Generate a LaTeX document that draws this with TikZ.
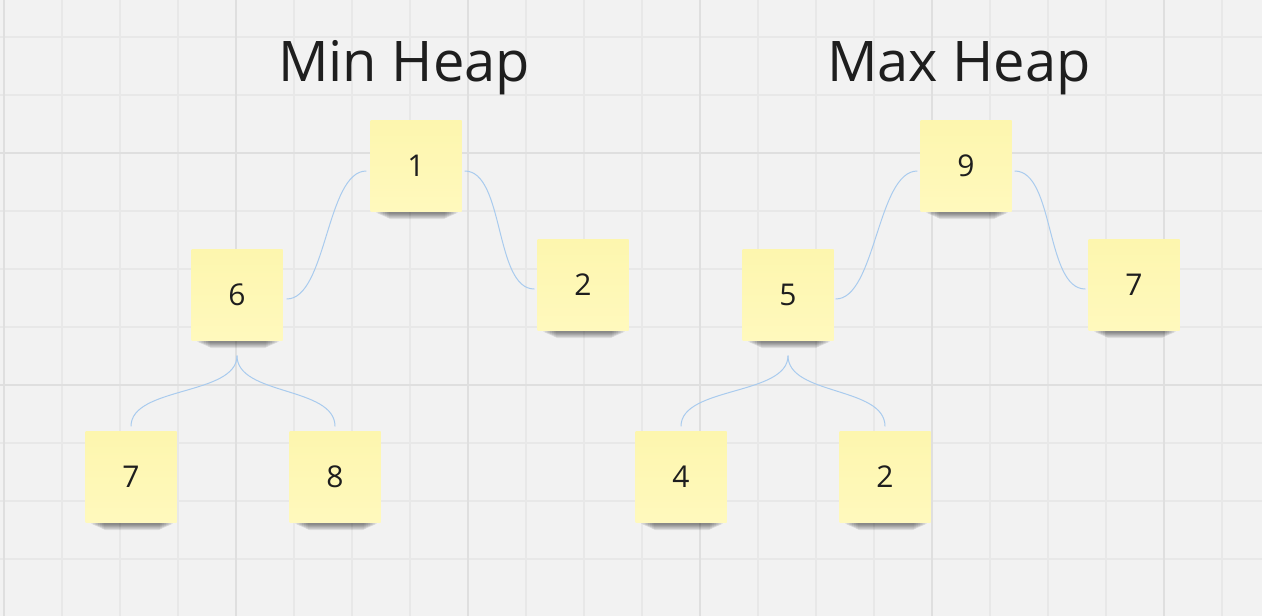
\documentclass[tikz,border=0pt]{standalone}
\usepackage{fontspec}
\setmainfont{Open Sans}
\definecolor{bgc}{HTML}{F2F2F2}
\definecolor{gridminor}{HTML}{E8E8E8}
\definecolor{gridmajor}{HTML}{DFDFDF}
\definecolor{notetop}{HTML}{FDF6AE}
\definecolor{notebot}{HTML}{FFF9BD}
\definecolor{linkc}{HTML}{A9CBEE}
\definecolor{textc}{HTML}{1E1E1E}
\tikzset{
  stickynote/.style={rectangle, minimum width=91pt, minimum height=91pt, inner sep=0pt,
    top color=notetop, bottom color=notebot, draw=none,
    font=\fontsize{30}{30}\selectfont, text=textc, text height=21.5pt, text depth=0pt},
  titletext/.style={font=\fontsize{56}{56}\selectfont, text=textc, anchor=base, inner sep=0pt},
  link/.style={draw=linkc, line width=1pt},
  shadowpiece/.style={fill=black, opacity=0.065}
}
\newcommand{\placenote}[4]{%
  \foreach \i in {0,...,7}{%
    \fill[shadowpiece, rounded corners=2pt] (#2-40+\i*1.8,#3+43) rectangle (#2+42-\i*1.8,#3+47.5+\i*0.8);
  }%
  \node[stickynote] (#1) at (#2,#3) {#4};%
}
\begin{document}
\begin{tikzpicture}[x=1pt,y=-1pt]
\fill[bgc] (0,0) rectangle (1262,616);
\useasboundingbox (0,0) rectangle (1262,616);
% grid
\foreach \k in {0,...,21}{
  \draw[gridminor, line width=1.3pt] ({4+58*\k},0) -- ({4+58*\k},616);
}
\foreach \k in {0,...,9}{
  \draw[gridminor, line width=1.3pt] (0,{37+58*\k}) -- (1262,{37+58*\k});
}
\foreach \xx in {4,236,468,700,932,1164}{
  \draw[gridmajor, line width=1.8pt] (\xx,0) -- (\xx,616);
}
\foreach \yy in {153,385}{
  \draw[gridmajor, line width=1.8pt] (0,\yy) -- (1262,\yy);
}
% titles
\node[titletext] (tmin) at (404,81) {Min Heap};
\node[titletext] (tmax) at (959,81) {Max Heap};
% min heap notes
\placenote{a1}{416}{166}{1}
\placenote{a6}{237}{295}{6}
\placenote{a2}{583}{285}{2}
\placenote{a7}{131}{477}{7}
\placenote{a8}{335}{477}{8}
% max heap notes
\placenote{b9}{966}{166}{9}
\placenote{b5}{788}{295}{5}
\placenote{b7}{1134}{285}{7}
\placenote{b4}{681}{477}{4}
\placenote{b2}{885}{477}{2}
% min heap links
\draw[link] ([xshift=-4pt,yshift=-5pt]a1.west) .. controls +(-40,0) and +(40,0) .. ([xshift=4pt,yshift=-4pt]a6.east);
\draw[link] ([xshift=3pt,yshift=-5pt]a1.east) .. controls +(40,0) and +(-40,0) .. ([xshift=-3pt,yshift=-4pt]a2.west);
\draw[link] ([yshift=-15pt]a6.south) .. controls +(0,40) and +(0,-40) .. ([yshift=5pt]a7.north);
\draw[link] ([yshift=-15pt]a6.south) .. controls +(0,40) and +(0,-40) .. ([yshift=5pt]a8.north);
% max heap links
\draw[link] ([xshift=-3pt,yshift=-5pt]b9.west) .. controls +(-40,0) and +(40,0) .. ([xshift=2pt,yshift=-4pt]b5.east);
\draw[link] ([xshift=3pt,yshift=-5pt]b9.east) .. controls +(40,0) and +(-40,0) .. ([xshift=-3pt,yshift=-4pt]b7.west);
\draw[link] ([yshift=-15pt]b5.south) .. controls +(0,40) and +(0,-40) .. ([yshift=5pt]b4.north);
\draw[link] ([yshift=-15pt]b5.south) .. controls +(0,40) and +(0,-40) .. ([yshift=5pt]b2.north);
\end{tikzpicture}
\end{document}
